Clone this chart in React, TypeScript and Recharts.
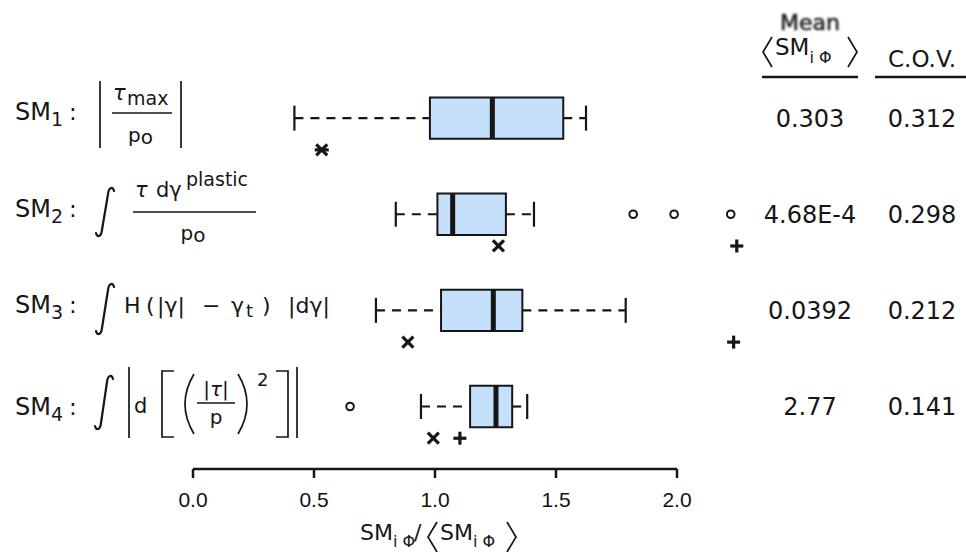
import React from 'react';
import {
  ScatterChart,
  Scatter,
  XAxis,
  YAxis,
  ReferenceArea,
  ReferenceLine,
} from 'recharts';

const rows = ['SM1', 'SM2', 'SM3', 'SM4'];
const whiskerLow = [0.419, 0.838, 0.756, 0.942];
const q1 = [0.979, 1.01, 1.025, 1.145];
const median = [1.237, 1.073, 1.241, 1.252];
const q3 = [1.53, 1.293, 1.361, 1.319];
const whiskerHigh = [1.624, 1.409, 1.788, 1.381];
const outliers = [[], [1.819, 1.988, 2.222], [], [0.649]];
const crossMarks = [null, 1.262, 0.888, 0.993];
const plusMarks = [null, 2.247, 2.234, 1.103];
const starMarks = [0.532, null, null, null];
const means = ['0.303', '4.68E-4', '0.0392', '2.77'];
const covs = ['0.312', '0.298', '0.212', '0.141'];
const xTicks = [0, 0.5, 1, 1.5, 2];

const INK = '#161616';
const BOX_FILL = '#c5e0fa';
const HALF = 0.215;
const CAP = 0.13;
const MARK_DY = 0.33;
const Y_MAX = 4.65;
const FONT = '"DejaVu Sans", sans-serif';

const outlierPts = outliers.flatMap((vals, i) => vals.map((x) => ({ x, y: i + 1 })));
const markPts = (arr: (number | null)[]) =>
  arr
    .map((x, i) => (x == null ? null : { x, y: i + 1 + MARK_DY }))
    .filter((p): p is { x: number; y: number } => p !== null);

const Circle = (p: any) => (
  <circle cx={p.cx} cy={p.cy} r={3.8} fill="none" stroke={INK} strokeWidth={2} />
);
const Cross = (p: any) => (
  <g stroke={INK} strokeWidth={3.2}>
    <line x1={p.cx - 5.5} y1={p.cy - 5.5} x2={p.cx + 5.5} y2={p.cy + 5.5} />
    <line x1={p.cx - 5.5} y1={p.cy + 5.5} x2={p.cx + 5.5} y2={p.cy - 5.5} />
  </g>
);
const Plus = (p: any) => (
  <g stroke={INK} strokeWidth={3.2}>
    <line x1={p.cx - 6.5} y1={p.cy} x2={p.cx + 6.5} y2={p.cy} />
    <line x1={p.cx} y1={p.cy - 6.5} x2={p.cx} y2={p.cy + 6.5} />
  </g>
);
const Star = (p: any) => (
  <g stroke={INK} strokeWidth={3.2}>
    <line x1={p.cx - 5.5} y1={p.cy - 5.5} x2={p.cx + 5.5} y2={p.cy + 5.5} />
    <line x1={p.cx - 5.5} y1={p.cy + 5.5} x2={p.cx + 5.5} y2={p.cy - 5.5} />
    <line x1={p.cx - 7} y1={p.cy} x2={p.cx + 7} y2={p.cy} />
  </g>
);

function XTick(p: any) {
  const v = p.payload ? Number(p.payload.value) : 0;
  return (
    <g transform={`translate(${p.x},${p.y})`}>
      <text
        x={0}
        y={29}
        textAnchor="middle"
        fontSize={21}
        fontFamily='"Liberation Sans", Arial, sans-serif'
        fill="#111"
      >
        {v.toFixed(1)}
      </text>
    </g>
  );
}

// thin slanted integral sign, drawn between top and bottom
function Integral({ x, top, bottom }: { x: number; top: number; bottom: number }) {
  const d = `M ${x + 19} ${top + 4} C ${x + 18} ${top}, ${x + 14} ${top - 1}, ${x + 13} ${top + 7}
    C ${x + 11} ${top + 20}, ${x + 9} ${bottom - 20}, ${x + 7} ${bottom - 7}
    C ${x + 6} ${bottom + 1}, ${x + 2} ${bottom}, ${x + 1} ${bottom - 4}`;
  return <path d={d} fill="none" stroke={INK} strokeWidth={2.2} strokeLinecap="round" />;
}

function SmLabel({ n, base }: { n: number; base: number }) {
  return (
    <>
      <text x={15} y={base} fontSize={24} fontFamily={FONT} fill={INK}>
        SM
        <tspan fontSize={19} dy={6}>
          {n}
        </tspan>
      </text>
      <text x={69} y={base} fontSize={23} fontFamily={FONT} fill={INK}>
        :
      </text>
    </>
  );
}

function Overlay() {
  const ln = { stroke: INK, strokeWidth: 1.7, fill: 'none' };
  const rowCenters = [118.5, 214.5, 310, 406];
  const t = { fontFamily: FONT, fill: INK };
  return (
    <svg
      width={966}
      height={552}
      style={{ position: 'absolute', left: 0, top: 0, pointerEvents: 'none' }}
    >
      <defs>
        <filter id="soft" x="-10%" y="-30%" width="120%" height="160%">
          <feGaussianBlur stdDeviation="0.9" />
        </filter>
      </defs>

      {/* row 1 */}
      <SmLabel n={1} base={120} />
      <line x1={100} y1={81} x2={100} y2={148} {...ln} />
      <line x1={181} y1={81} x2={181} y2={148} {...ln} />
      <text x={113} y={100} fontSize={21} fontStyle="italic" {...t}>
        τ
      </text>
      <text x={127} y={105} fontSize={19} {...t}>
        max
      </text>
      <line x1={112} y1={113} x2={172} y2={113} {...ln} />
      <text x={128} y={142} fontSize={20} {...t}>
        p<tspan dy={2}>o</tspan>
      </text>

      {/* row 2 */}
      <SmLabel n={2} base={217} />
      <Integral x={95} top={187} bottom={237} />
      <text x={135} y={197} fontSize={21} fontStyle="italic" {...t}>
        τ
      </text>
      <text x={156} y={197} fontSize={21} {...t}>
        dγ
      </text>
      <text x={186} y={186} fontSize={19} {...t}>
        plastic
      </text>
      <line x1={133} y1={212} x2={256} y2={212} {...ln} />
      <text x={193} y={240} fontSize={20} textAnchor="middle" {...t}>
        p<tspan dy={2}>o</tspan>
      </text>

      {/* row 3 */}
      <SmLabel n={3} base={313} />
      <Integral x={95} top={283} bottom={335} />
      <text y={313} fontSize={22} {...t}>
        <tspan x={124}>H</tspan>
        <tspan x={146}>(</tspan>
        <tspan x={157}>|γ|</tspan>
        <tspan x={202}>−</tspan>
        <tspan x={231}>γ</tspan>
        <tspan fontSize={18} dx={2} dy={4}>
          t
        </tspan>
        <tspan x={262} dy={-4}>
          )
        </tspan>
        <tspan x={288}>|dγ|</tspan>
      </text>

      {/* row 4 */}
      <SmLabel n={4} base={415} />
      <Integral x={94} top={375} bottom={430} />
      <line x1={129} y1={367} x2={129} y2={438} {...ln} />
      <text x={134} y={413} fontSize={21} {...t}>
        d
      </text>
      <path d="M 174 371 L 162 371 L 162 437 L 174 437" {...ln} />
      <path d="M 194 374 Q 176 404 194 434" {...ln} />
      <text x={216} y={396} fontSize={20} textAnchor="middle" {...t}>
        |<tspan fontStyle="italic">τ</tspan>|
      </text>
      <line x1={197} y1={403} x2={235} y2={403} {...ln} />
      <text x={216} y={424} fontSize={20} textAnchor="middle" {...t}>
        p
      </text>
      <path d="M 238 374 Q 256 404 238 434" {...ln} />
      <text x={257} y={386} fontSize={18} {...t}>
        2
      </text>
      <path d="M 276 371 L 288 371 L 288 437 L 276 437" {...ln} />
      <line x1={297} y1={367} x2={297} y2={438} {...ln} />

      {/* header */}
      <text
        x={810}
        y={30}
        fontSize={22}
        textAnchor="middle"
        fontFamily={FONT}
        fill="#222"
        stroke="#333"
        strokeWidth={0.7}
        filter="url(#soft)"
      >
        Mean
      </text>
      <path d="M 772 37 L 763 52 L 772 67" {...ln} />
      <text x={775} y={55} fontSize={23} {...t}>
        SM
        <tspan fontSize={16} dy={8}>
          i Φ
        </tspan>
      </text>
      <path d="M 848 37 L 857 52 L 848 67" {...ln} />
      <text x={922} y={67} fontSize={23} textAnchor="middle" {...t}>
        C.O.V.
      </text>
      <line x1={762} y1={77} x2={858} y2={77} stroke={INK} strokeWidth={2.5} />
      <line x1={875} y1={77} x2={966} y2={77} stroke={INK} strokeWidth={2.5} />

      {rows.map((r, i) => (
        <g key={r}>
          <text x={810} y={rowCenters[i] + 8.5} fontSize={24} textAnchor="middle" {...t}>
            {means[i]}
          </text>
          <text x={922} y={rowCenters[i] + 8.5} fontSize={24} textAnchor="middle" {...t}>
            {covs[i]}
          </text>
        </g>
      ))}

      {/* x axis title */}
      <text y={540} fontSize={22} {...t}>
        <tspan x={360}>SM</tspan>
        <tspan fontSize={16} dy={7}>
          i Φ
        </tspan>
        <tspan x={414} dy={-7}>
          /
        </tspan>
      </text>
      <path d="M 437 522 L 428 537 L 437 552" {...ln} />
      <text x={440} y={540} fontSize={22} {...t}>
        SM
        <tspan fontSize={16} dy={7}>
          i Φ
        </tspan>
      </text>
      <path d="M 507 522 L 516 537 L 507 552" {...ln} />
    </svg>
  );
}

export default function App() {
  return (
    <div
      style={{
        position: 'absolute',
        left: 0,
        top: 0,
        width: 966,
        height: 552,
        background: '#fff',
        fontFamily: FONT,
      }}
    >
      <ScatterChart
        width={966}
        height={552}
        margin={{ top: 22, right: 168, bottom: 43, left: 193 }}
      >
        <XAxis
          type="number"
          dataKey="x"
          domain={[0, 2.5]}
          ticks={xTicks}
          axisLine={false}
          tickLine={{ stroke: INK, strokeWidth: 2.5 }}
          tickSize={9}
          tickMargin={0}
          height={40}
          tick={<XTick />}
          allowDataOverflow
        />
        <YAxis type="number" dataKey="y" domain={[0, Y_MAX]} reversed hide allowDataOverflow />
        <ReferenceLine
          segment={[
            { x: xTicks[0], y: Y_MAX },
            { x: xTicks[xTicks.length - 1], y: Y_MAX },
          ]}
          stroke={INK}
          strokeWidth={2.5}
          ifOverflow="visible"
        />
        {rows.map((r, i) => {
          const y = i + 1;
          return (
            <React.Fragment key={r}>
              <ReferenceLine
                segment={[{ x: whiskerLow[i], y }, { x: q1[i], y }]}
                stroke={INK}
                strokeWidth={2.2}
                strokeDasharray="9 7"
                ifOverflow="visible"
              />
              <ReferenceLine
                segment={[{ x: q3[i], y }, { x: whiskerHigh[i], y }]}
                stroke={INK}
                strokeWidth={2.2}
                strokeDasharray="9 7"
                ifOverflow="visible"
              />
              <ReferenceLine
                segment={[{ x: whiskerLow[i], y: y - CAP }, { x: whiskerLow[i], y: y + CAP }]}
                stroke={INK}
                strokeWidth={2.2}
                ifOverflow="visible"
              />
              <ReferenceLine
                segment={[{ x: whiskerHigh[i], y: y - CAP }, { x: whiskerHigh[i], y: y + CAP }]}
                stroke={INK}
                strokeWidth={2.2}
                ifOverflow="visible"
              />
              <ReferenceArea
                x1={q1[i]}
                x2={q3[i]}
                y1={y - HALF}
                y2={y + HALF}
                fill={BOX_FILL}
                fillOpacity={1}
                stroke={INK}
                strokeWidth={2}
                ifOverflow="visible"
              />
              <ReferenceLine
                segment={[{ x: median[i], y: y - HALF }, { x: median[i], y: y + HALF }]}
                stroke={INK}
                strokeWidth={5}
                ifOverflow="visible"
              />
            </React.Fragment>
          );
        })}
        <Scatter data={outlierPts} shape={Circle} isAnimationActive={false} />
        <Scatter data={markPts(crossMarks)} shape={Cross} isAnimationActive={false} />
        <Scatter data={markPts(plusMarks)} shape={Plus} isAnimationActive={false} />
        <Scatter data={markPts(starMarks)} shape={Star} isAnimationActive={false} />
      </ScatterChart>
      <Overlay />
    </div>
  );
}
